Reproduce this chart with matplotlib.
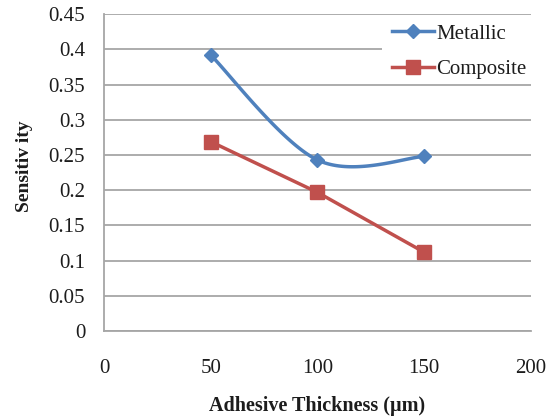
import numpy as np
import matplotlib
matplotlib.use("Agg")
import matplotlib.pyplot as plt
from matplotlib.patches import Rectangle

plt.rcParams['font.family'] = ['Liberation Serif', 'DejaVu Serif']

thickness = [50, 100, 150]
metallic = [0.392, 0.243, 0.248]
composite = [0.269, 0.197, 0.112]
x_ticks = [0, 50, 100, 150, 200]
y_ticks = [0, 0.05, 0.1, 0.15, 0.2, 0.25, 0.3, 0.35, 0.4, 0.45]
y_ticklabels = ['0', '0.05', '0.1', '0.15', '0.2', '0.25', '0.3', '0.35', '0.4', '0.45']

BLUE = '#4f81bd'
RED = '#c0504d'
GRID = '#a6a6a6'
TXT = '#1c1c1c'


def smooth_path(xs, ys, n=60):
    """Excel-style smoothed line (Catmull-Rom Bezier) through the data points."""
    xs = np.asarray(xs, float)
    ys = np.asarray(ys, float)
    px, py = [], []
    for i in range(len(xs) - 1):
        x0, y0 = xs[max(i - 1, 0)], ys[max(i - 1, 0)]
        x1, y1 = xs[i], ys[i]
        x2, y2 = xs[i + 1], ys[i + 1]
        x3, y3 = xs[min(i + 2, len(xs) - 1)], ys[min(i + 2, len(xs) - 1)]
        c1 = (x1 + (x2 - x0) / 6, y1 + (y2 - y0) / 6)
        c2 = (x2 - (x3 - x1) / 6, y2 - (y3 - y1) / 6)
        t = np.linspace(0, 1, n)
        bx = (1 - t) ** 3 * x1 + 3 * (1 - t) ** 2 * t * c1[0] + 3 * (1 - t) * t ** 2 * c2[0] + t ** 3 * x2
        by = (1 - t) ** 3 * y1 + 3 * (1 - t) ** 2 * t * c1[1] + 3 * (1 - t) * t ** 2 * c2[1] + t ** 3 * y2
        px.extend(bx)
        py.extend(by)
    return np.array(px), np.array(py)


fig = plt.figure(figsize=(5.53, 4.17), dpi=100)
ax = fig.add_axes([0.188, 0.206, 0.772, 0.760])

sx, sy = smooth_path(thickness, metallic)
ax.plot(sx, sy, color=BLUE, lw=2.5, zorder=3, solid_capstyle='round')
ax.plot(thickness, metallic, linestyle='none', marker='D', ms=7, color=BLUE, zorder=4)
ax.plot(thickness, composite, color=RED, lw=2.5, marker='s', ms=10, zorder=3)

# white legend background patch (covers grid lines)
ax.add_patch(Rectangle((0.651, 0.792), 0.36, 0.189, transform=ax.transAxes,
                       facecolor='white', edgecolor='none', zorder=2.5, clip_on=False))

h1, = ax.plot([], [], color=BLUE, lw=2.5, marker='D', ms=7)
h2, = ax.plot([], [], color=RED, lw=2.5, marker='s', ms=10)
leg = ax.legend([h1, h2], ['Metallic', 'Composite'], loc='upper left',
                bbox_to_anchor=(0.674, 0.969), frameon=False,
                fontsize=15, handlelength=2.05, handletextpad=0.1,
                labelspacing=0.77, borderpad=0.0, borderaxespad=0.0)
leg.set_zorder(5)
for t in leg.get_texts():
    t.set_color(TXT)

ax.set_xlim(0, 200)
ax.set_ylim(0, 0.45)
ax.set_xticks(x_ticks)
ax.set_yticks(y_ticks)
ax.set_xticklabels([str(v) for v in x_ticks])
ax.set_yticklabels(y_ticklabels)
ax.tick_params(length=0, labelsize=15, colors=TXT)
ax.tick_params(axis='y', pad=13.5)
ax.tick_params(axis='x', pad=20)
ax.grid(axis='y', color=GRID, lw=1.3)
ax.set_axisbelow(True)
for s in ['top', 'right']:
    ax.spines[s].set_visible(False)
for s in ['left', 'bottom']:
    ax.spines[s].set_color(GRID)
    ax.spines[s].set_linewidth(1.3)

ax.set_xlabel('Adhesive Thickness (µm)', fontsize=14.5, fontweight='bold', color=TXT, labelpad=13)
ax.set_ylabel('Sensitiv ity', fontsize=14, fontweight='bold', color=TXT)
ax.yaxis.set_label_coords(-0.166, 0.52)

fig.savefig('out.png', dpi=100)
